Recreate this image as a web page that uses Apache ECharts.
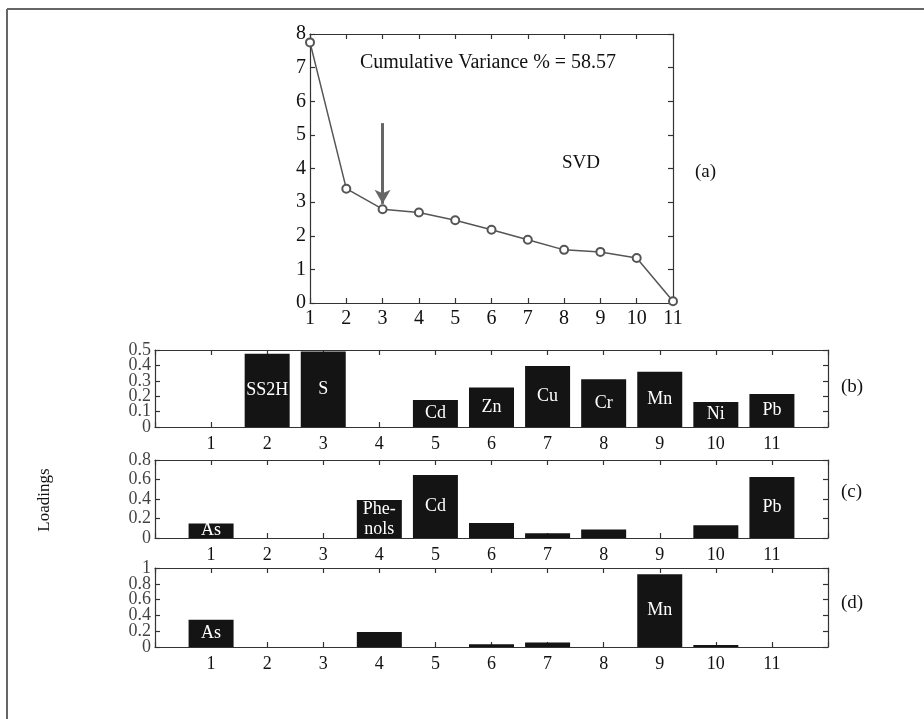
<!DOCTYPE html>
<html>
<head>
<meta charset="utf-8">
<script src="https://cdn.jsdelivr.net/npm/echarts@6/dist/echarts.min.js"></script>
<style>
html,body{margin:0;padding:0;background:#fff;}
#chart{width:924px;height:719px;}
</style>
</head>
<body>
<div id="chart"></div>
<script>
// ---- data ----
const factors = [1, 2, 3, 4, 5, 6, 7, 8, 9, 10, 11];
const svdValues = [7.75, 3.4, 2.79, 2.69, 2.46, 2.18, 1.88, 1.58, 1.52, 1.34, 0.05];
const arrowFrom = [3, 5.35];
const arrowTo = [3, 2.95];

const loadingsB = [0, 0.475, 0.49, 0, 0.175, 0.257, 0.396, 0.31, 0.358, 0.162, 0.215];
const namesB = ['', 'SS2H', 'S', '', 'Cd', 'Zn', 'Cu', 'Cr', 'Mn', 'Ni', 'Pb'];
const loadingsC = [0.15, 0, 0, 0.39, 0.645, 0.155, 0.048, 0.088, 0, 0.13, 0.625];
const namesC = ['As', '', '', 'Phe-\nnols', 'Cd', '', '', '', '', '', 'Pb'];
const loadingsD = [0.345, 0, 0, 0.19, 0, 0.035, 0.058, 0, 0.92, 0.025, 0];
const namesD = ['As', '', '', '', '', '', '', '', 'Mn', '', ''];

// y tick labels of the loading panels
const ticksB = [0, 0.1, 0.2, 0.3, 0.4, 0.5];
const ticksC = [0, 0.2, 0.4, 0.6, 0.8];
const ticksD = [0, 0.2, 0.4, 0.6, 0.8, 1];

const varianceText = 'Cumulative Variance % = 58.57';

// ---- styles ----
const FONT = 'Liberation Serif';
const AX = '#333';
const grids = [
  {left: 310, top: 34, width: 363, height: 269},
  {left: 155, top: 350, width: 673, height: 77},
  {left: 155, top: 460, width: 673, height: 78},
  {left: 155, top: 568, width: 673, height: 79}
];
const yCfg = [
  {max: 8, interval: 1, size: 20},
  {max: 0.5, interval: 0.1, size: 18},
  {max: 0.8, interval: 0.2, size: 18},
  {max: 1, interval: 0.2, size: 18}
];

const xAxes = [], yAxes = [], series = [];
grids.forEach((g, i) => {
  const isTop = i === 0;
  const xmin = isTop ? 1 : 0, xmax = isTop ? 11 : 12;
  const fs = yCfg[i].size;
  const common = {type: 'value', gridIndex: i, min: xmin, max: xmax, interval: 1,
    splitLine: {show: false},
    axisLine: {show: true, onZero: false, lineStyle: {color: AX, width: 1.2}},
    axisTick: {show: true, inside: true, length: 5, lineStyle: {color: AX, width: 1.2}}};
  xAxes.push(Object.assign({}, common, {position: 'bottom',
    axisLabel: {fontFamily: FONT, fontSize: fs, color: '#111', margin: isTop ? 6 : 8,
      showMinLabel: true, showMaxLabel: true,
      formatter: v => (v >= 1 && v <= 11) ? String(v) : ''}}));
  xAxes.push(Object.assign({}, common, {position: 'top', axisLabel: {show: false}}));
  const ycommon = {type: 'value', gridIndex: i, min: 0, max: yCfg[i].max, interval: yCfg[i].interval,
    splitLine: {show: false},
    axisLine: {show: true, onZero: false, lineStyle: {color: AX, width: 1.2}},
    axisTick: {show: true, inside: true, length: 5, lineStyle: {color: AX, width: 1.2}}};
  yAxes.push(Object.assign({}, ycommon, {position: 'left',
    axisLabel: isTop ? {fontFamily: FONT, fontSize: fs, color: '#111', margin: 4,
      showMinLabel: true, showMaxLabel: true} : {show: false}}));
  yAxes.push(Object.assign({}, ycommon, {position: 'right', axisLabel: {show: false}}));
});

series.push({
  type: 'line', xAxisIndex: 0, yAxisIndex: 0,
  data: factors.map((f, k) => [f, svdValues[k]]),
  symbol: 'emptyCircle', symbolSize: 8,
  lineStyle: {color: '#555', width: 1.5},
  itemStyle: {color: '#555', borderWidth: 1.2},
  z: 3,
  markLine: {
    silent: true, animation: false,
    symbol: ['none', 'arrow'], symbolSize: [12, 14],
    lineStyle: {color: '#666', width: 3, type: 'solid'},
    label: {show: false},
    data: [[{coord: arrowFrom}, {coord: arrowTo}]]
  }
});

function barSeries(idx, vals, names) {
  return {
    type: 'bar', xAxisIndex: idx * 2, yAxisIndex: idx * 2,
    barWidth: 45,
    data: factors.map((f, k) => ({value: [f, vals[k]], name: names[k]})),
    itemStyle: {color: '#141414'},
    label: {show: true, position: 'inside', color: '#fff', fontFamily: FONT, fontSize: 18, lineHeight: 20,
      formatter: p => p.name || ''},
    animation: false
  };
}
// y tick labels placed on the panel's own y scale (left edge, x = axis min)
function tickLabelSeries(idx, ticks) {
  return {
    type: 'scatter', xAxisIndex: idx * 2, yAxisIndex: idx * 2,
    symbolSize: 0, silent: true, animation: false,
    data: ticks.map(t => [0, t]),
    label: {show: true, position: 'left', distance: 4, color: '#111', fontFamily: FONT, fontSize: 18,
      formatter: p => String(p.value[1])},
    labelLayout: {hideOverlap: false}
  };
}
series.push(barSeries(1, loadingsB, namesB));
series.push(barSeries(2, loadingsC, namesC));
series.push(barSeries(3, loadingsD, namesD));
series.push(tickLabelSeries(1, ticksB));
series.push(tickLabelSeries(2, ticksC));
series.push(tickLabelSeries(3, ticksD));

const textStyle = (s) => ({fontFamily: FONT, fontSize: s, fill: '#111'});
const option = {
  animation: false,
  backgroundColor: '#fff',
  grid: grids.map(g => Object.assign({show: false, containLabel: false}, g)),
  xAxis: xAxes,
  yAxis: yAxes,
  series: series,
  graphic: [
    {type: 'line', shape: {x1: 7, y1: 9, x2: 924, y2: 9}, style: {stroke: '#666', lineWidth: 2}},
    {type: 'line', shape: {x1: 7, y1: 9, x2: 7, y2: 719}, style: {stroke: '#666', lineWidth: 2}},
    {type: 'text', x: 488, y: 63, style: Object.assign(textStyle(20), {text: varianceText, align: 'center', verticalAlign: 'middle'})},
    {type: 'text', x: 581, y: 163, style: Object.assign(textStyle(19), {text: 'SVD', align: 'center', verticalAlign: 'middle'})},
    {type: 'text', x: 695, y: 172, style: Object.assign(textStyle(19), {text: '(a)', align: 'left', verticalAlign: 'middle'})},
    {type: 'text', x: 841, y: 387, style: Object.assign(textStyle(19), {text: '(b)', align: 'left', verticalAlign: 'middle'})},
    {type: 'text', x: 841, y: 492, style: Object.assign(textStyle(19), {text: '(c)', align: 'left', verticalAlign: 'middle'})},
    {type: 'text', x: 841, y: 603, style: Object.assign(textStyle(19), {text: '(d)', align: 'left', verticalAlign: 'middle'})},
    {type: 'text', x: 45, y: 500, rotation: Math.PI / 2, style: Object.assign(textStyle(17), {text: 'Loadings', align: 'center', verticalAlign: 'middle'})}
  ]
};
const chart = echarts.init(document.getElementById('chart'), null, {renderer: 'canvas'});
chart.setOption(option);
</script>
</body>
</html>
